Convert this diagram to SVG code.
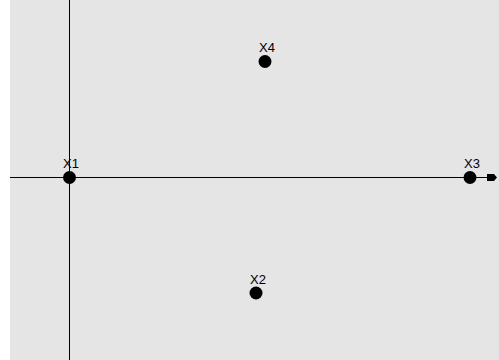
<svg xmlns="http://www.w3.org/2000/svg" width="499" height="360" viewBox="0 0 499 360">
<style>
.ax{stroke:#000;stroke-width:1;fill:none}
.dot{fill:#000}
.lbl{font-family:"Liberation Sans",Arial,sans-serif;font-size:13px;fill:#000;text-anchor:middle}
</style>
<rect x="0" y="0" width="499" height="360" fill="#fff"/>
<rect x="10" y="0" width="489" height="360" fill="#e5e5e5"/>
<g id="connectors">
<line class="ax" x1="69.5" y1="0" x2="69.5" y2="360"/>
<line class="ax" x1="10" y1="177.5" x2="488" y2="177.5"/>
<path d="M487,174 H494 L497,177.5 L494,181 H487 Z" fill="#000"/>
</g>
<g id="X1"><circle class="dot" cx="69.5" cy="177.5" r="6.5"/><text class="lbl" x="71" y="168">X1</text></g>
<g id="X4"><circle class="dot" cx="265" cy="61.5" r="6.5"/><text class="lbl" x="267" y="52">X4</text></g>
<g id="X2"><circle class="dot" cx="256" cy="293" r="6.5"/><text class="lbl" x="258" y="284">X2</text></g>
<g id="X3"><circle class="dot" cx="470" cy="177.5" r="6.5"/><text class="lbl" x="472" y="168">X3</text></g>
</svg>
